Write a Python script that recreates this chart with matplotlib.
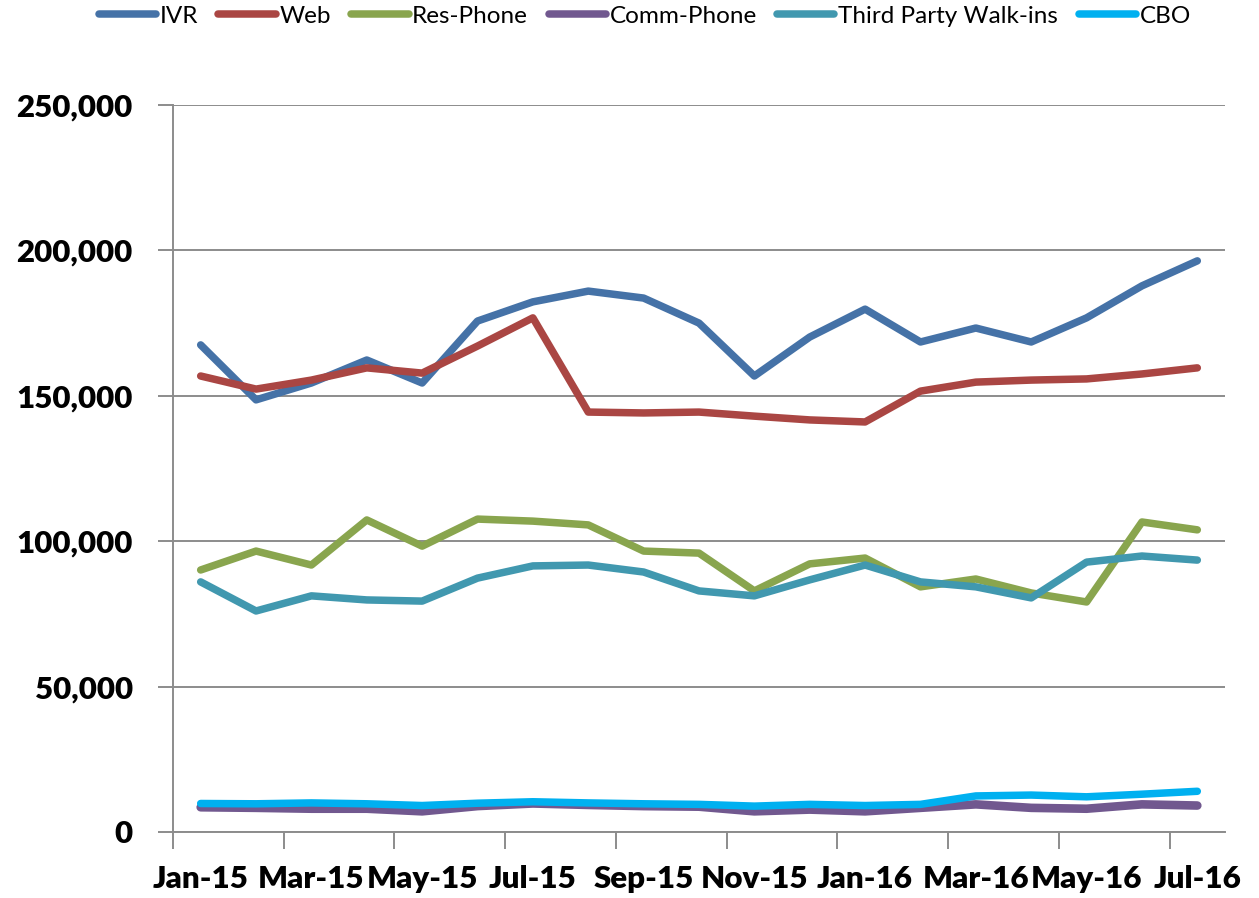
import matplotlib
matplotlib.use("Agg")
import matplotlib.pyplot as plt
from matplotlib.ticker import FuncFormatter, FixedLocator

plt.rcParams['font.family'] = ['Lato', 'DejaVu Sans']

months = ["Jan-15", "Feb-15", "Mar-15", "Apr-15", "May-15", "Jun-15", "Jul-15",
          "Aug-15", "Sep-15", "Oct-15", "Nov-15", "Dec-15", "Jan-16", "Feb-16",
          "Mar-16", "Apr-16", "May-16", "Jun-16", "Jul-16"]

ivr = [167500, 148600, 154400, 162300, 154400, 175700, 182300, 186000, 183600, 175000,
       156800, 170200, 179800, 168500, 173300, 168500, 176800, 187800, 196400]
web = [156800, 152300, 155400, 159600, 157800, 167100, 176800, 144400, 144100, 144400,
       143000, 141700, 141000, 151600, 154700, 155400, 155800, 157500, 159600]
res_phone = [90100, 96600, 91800, 107300, 98300, 107600, 106900, 105600, 96600, 95900,
             82900, 92200, 94200, 84300, 87000, 82200, 79100, 106600, 103900]
comm_phone = [8500, 8300, 8000, 8000, 7100, 8900, 9800, 9300, 8900, 8700,
              7100, 7700, 7100, 8300, 9500, 8300, 8000, 9500, 9100]
third_party = [86000, 76000, 81200, 79800, 79400, 87300, 91500, 91800, 89400, 82900,
               81200, 86700, 91800, 86000, 84300, 80500, 92800, 94900, 93500]
cbo = [9800, 9700, 10000, 9700, 9100, 9900, 10400, 10000, 9700, 9500,
       8900, 9500, 9100, 9500, 12400, 12700, 12100, 13000, 14000]

series = [
    ("IVR", ivr, "#4572A7"),
    ("Web", web, "#AA4643"),
    ("Res-Phone", res_phone, "#89A54E"),
    ("Comm-Phone", comm_phone, "#71588F"),
    ("Third Party Walk-ins", third_party, "#4198AF"),
    ("CBO", cbo, "#00B0F0"),
]

fig = plt.figure(figsize=(12.59, 8.98), dpi=100)
ax = fig.add_axes([0.1374, 0.0735, 0.8356, 0.8096])

x = list(range(len(months)))
for name, vals, color in series:
    lw = 6.2 if name == "Comm-Phone" else 5.4
    ax.plot(x, vals, color=color, lw=lw, solid_capstyle='round',
            solid_joinstyle='round', label=name)

ax.set_xlim(-0.5, len(months) - 0.5)
ax.set_ylim(0, 250000)
ax.set_yticks(range(0, 250001, 50000))
ax.yaxis.set_major_formatter(FuncFormatter(lambda v, p: f"{int(v):,}"))
ax.grid(axis='y', color='#8C8C8C', lw=1.4)
ax.set_axisbelow(True)

# category labels every other month, tick marks between categories
ax.set_xticks(x[::2])
ax.set_xticklabels(months[::2])
ax.xaxis.set_minor_locator(FixedLocator([i - 0.5 for i in range(0, len(months) + 1, 2)]))
ax.tick_params(axis='x', which='major', length=0, pad=24)
ax.tick_params(axis='x', which='minor', length=12, width=1.4, color='#8C8C8C')
ax.tick_params(axis='y', length=11, width=1.4, color='#8C8C8C', pad=18)

for lab in ax.get_xticklabels() + ax.get_yticklabels():
    lab.set_fontsize(22.5)
    lab.set_fontweight('heavy')

for s in ['top', 'right']:
    ax.spines[s].set_visible(False)
for s in ['left', 'bottom']:
    ax.spines[s].set_color('#8C8C8C')
    ax.spines[s].set_linewidth(1.4)

leg = fig.legend(loc='upper center', bbox_to_anchor=(0.512, 1.018), ncol=6, frameon=False,
                 fontsize=17.5, handlelength=2.35, handletextpad=0.15, columnspacing=0.85)
for h in leg.get_lines():
    h.set_linewidth(5.4)

fig.savefig("out.png", dpi=100)
